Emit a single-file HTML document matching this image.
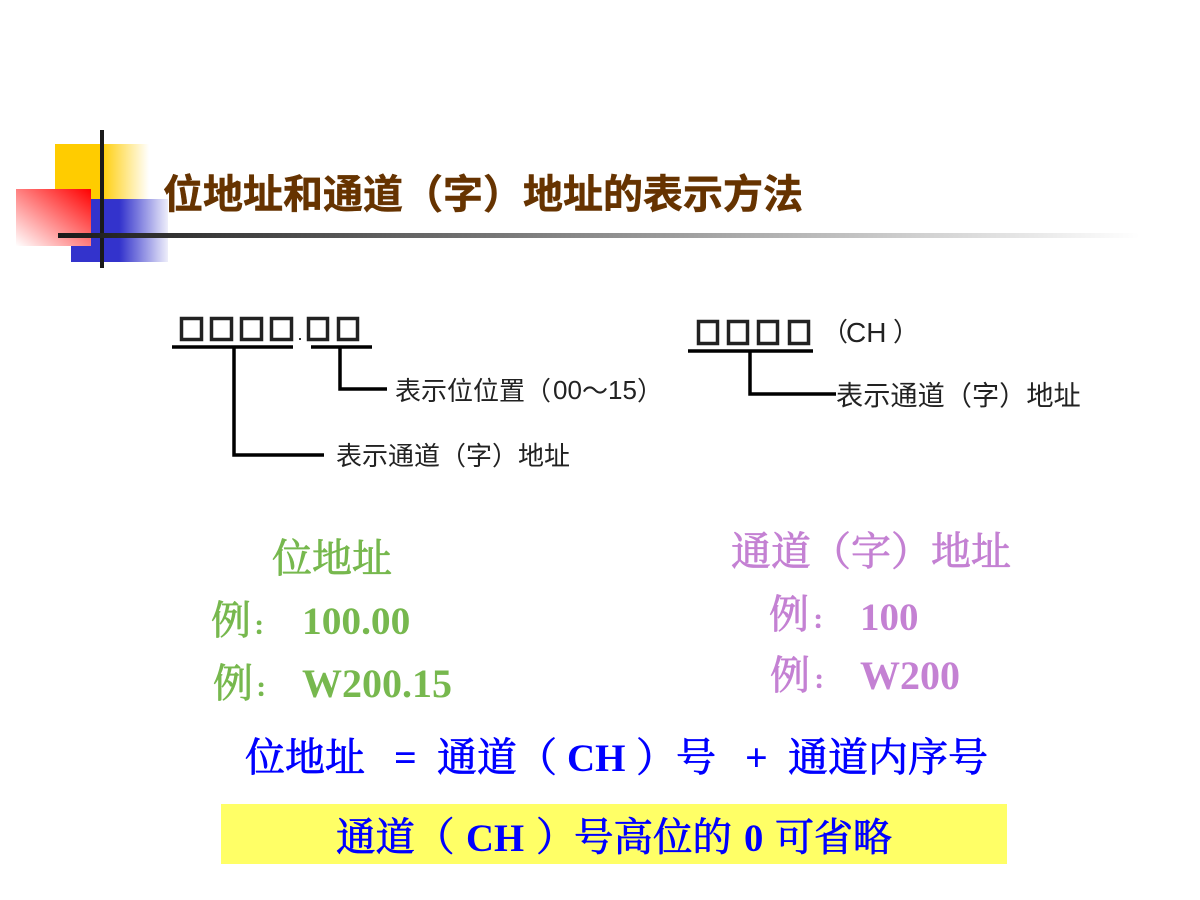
<!DOCTYPE html>
<html><head><meta charset="utf-8"><style>
html,body{margin:0;padding:0;background:#fff}
svg{display:block}
.s{font-family:"Liberation Serif","Noto Serif CJK SC",serif;font-size:40px}
.c{stroke-width:.8px;stroke-linejoin:round}
.t{font-family:"Liberation Sans","Noto Sans CJK SC",sans-serif;font-size:26px;fill:#222}
.t2{font-size:27.200px}
.g{fill:#77B84E;stroke:#77B84E}
.p{fill:#C481D3;stroke:#C481D3}
.u{fill:#0000FF;stroke:#0000FF}
.b{font-weight:bold;stroke:none}
.k{font-size:22px;stroke-width:2px}
</style></head><body>
<svg width="1200" height="900" viewBox="0 0 1200 900" xmlns="http://www.w3.org/2000/svg">
<defs>
<linearGradient id="y" x1="0" x2="1" y1="0" y2="0"><stop offset="0.48" stop-color="#FFCC00"/><stop offset="1" stop-color="#FFFFFF"/></linearGradient>
<linearGradient id="bl" x1="0" x2="1" y1="0" y2="0"><stop offset="0.5" stop-color="#3333CC"/><stop offset="1" stop-color="#EEEEFA"/></linearGradient>
<linearGradient id="r" x1="1" x2="0" y1="0" y2="1"><stop offset="0" stop-color="#FF0000"/><stop offset="1" stop-color="#FFFFFF"/></linearGradient>
<linearGradient id="h" gradientUnits="userSpaceOnUse" x1="58" x2="1140" y1="0" y2="0"><stop offset="0" stop-color="#1a1a1a"/><stop offset="1" stop-color="#ffffff"/></linearGradient>
</defs>
<rect x="55" y="144" width="94" height="56" fill="url(#y)"/>
<rect x="71" y="199" width="97" height="63" fill="url(#bl)"/>
<rect x="16" y="189" width="75" height="57" fill="url(#r)"/>
<rect x="100" y="130" width="4" height="138" fill="#1a1a1a"/>
<rect x="58" y="233" width="1082" height="5" fill="url(#h)"/>
<text x="163" y="208" font-family="'Liberation Sans','Noto Sans CJK SC',sans-serif" font-size="40" font-weight="bold" fill="#663300" stroke="#663300" stroke-width=".5">位地址和通道（字）地址的表示方法</text>

<g fill="none" stroke="#222" stroke-width="3.500">
<rect x="181.500" y="318.500" width="20" height="21"/>
<rect x="211.500" y="318.500" width="20" height="21"/>
<rect x="241.500" y="318.500" width="20" height="21"/>
<rect x="271.500" y="318.500" width="20" height="21"/>
<rect x="308.500" y="318.500" width="19" height="21"/>
<rect x="338.500" y="318.500" width="19" height="21"/>
<rect x="698.500" y="321.500" width="19" height="22"/>
<rect x="728.500" y="321.500" width="19" height="22"/>
<rect x="758.500" y="321.500" width="19" height="22"/>
<rect x="789.500" y="321.500" width="19" height="22"/>
</g>
<rect x="299" y="338" width="2" height="2" fill="#333"/>
<g fill="none" stroke="#000" stroke-width="3.500">
<path d="M172 347H293M311 347H372"/>
<path d="M234 347V455H324"/>
<path d="M340 347V389H387"/>
<path d="M688 351H813"/>
<path d="M750 351V394H836"/>
</g>
<text class="t" x="395" y="400">表示位位置（</text>
<text class="t" x="553" y="399">00</text>
<text class="t" x="582" y="400">～</text>
<text class="t" x="608" y="399">15</text>
<text class="t" x="637" y="400">）</text>
<text class="t" x="336" y="465">表示通道（字）地址</text>
<text class="t t2" x="836" y="405">表示通道（字）地址</text>
<text class="t" x="822" y="341">（</text>
<text class="t" x="846" y="342" style="font-size:28px">CH</text>
<text class="t" x="893" y="341">）</text>

<g class="s c">
<text class="g" x="272" y="572">位地址</text>
<text class="g" x="211" y="634">例</text>
<text class="g k" x="254" y="634">：</text>
<text class="g b" x="302" y="634" style="font-size:39.400px">100.00</text>
<text class="g" x="213" y="697">例</text>
<text class="g k" x="256" y="696">：</text>
<text class="g b" x="302" y="697">W200.15</text>
<text class="p" x="731" y="565">通道（字）地址</text>
<text class="p" x="769" y="628">例</text>
<text class="p k" x="813" y="628">：</text>
<text class="p b" x="860" y="630" style="font-size:39px">100</text>
<text class="p" x="770" y="689">例</text>
<text class="p k" x="814" y="688">：</text>
<text class="p b" x="860" y="689">W200</text>
</g>
<rect x="221" y="804" width="786" height="60" fill="#FFFF66"/>
<g class="s c">
<text class="u" x="245" y="771">位地址</text>
<text class="u b" x="394" y="771">=</text>
<text class="u" x="437" y="771">通道（</text>
<text class="u b" x="567" y="771" style="font-size:39px">CH</text>
<text class="u" x="636" y="771">）号</text>
<text class="u b" x="745" y="771">+</text>
<text class="u" x="788" y="771">通道内序号</text>
<text class="u" x="336" y="851" style="font-size:39.500px">通道（</text>
<text class="u b" x="466" y="851" style="font-size:38.700px">CH</text>
<text class="u" x="536" y="851" style="font-size:39.500px">）</text>
<text class="u" x="574" y="851" style="font-size:39.500px">号高位的</text>
<text class="u b" x="744" y="851" style="font-size:38.700px">0</text>
<text class="u" x="775" y="851" style="font-size:39px">可省略</text>
</g>
</svg>
</body></html>
